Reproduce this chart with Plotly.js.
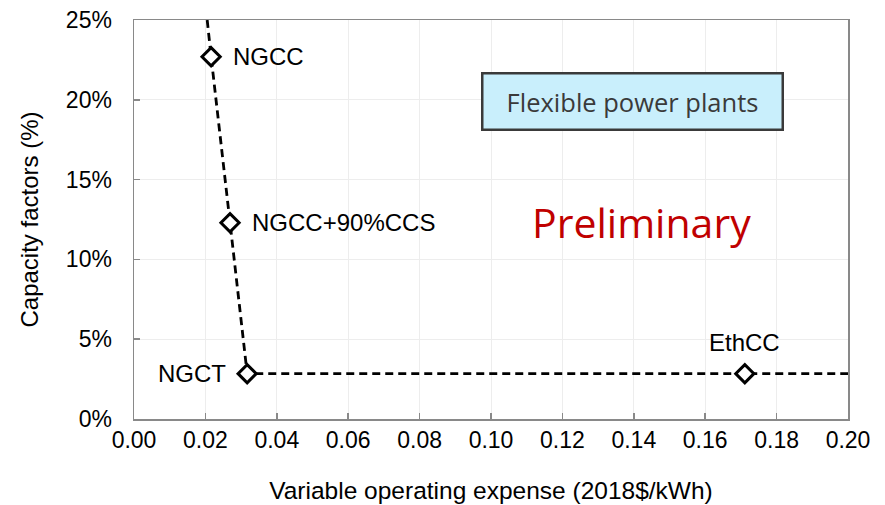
<!DOCTYPE html>
<html>
<head>
<meta charset="utf-8">
<script src="https://cdn.plot.ly/plotly-3.0.1.min.js"></script>
<style>html,body{margin:0;padding:0;background:#fff;}#chart{width:885px;height:505px;}</style>
</head>
<body>
<div id="chart"></div>
<script>
// Data
const plantNames = ["NGCC", "NGCC+90%CCS", "NGCT", "EthCC"];
const plantCost = [0.0216, 0.0269, 0.0317, 0.1711];
const plantCF = [22.7, 12.3, 2.84, 2.84];
// Frontier (dashed) line
const frontierX = [0.0205, 0.0216, 0.0269, 0.0317, 0.1711, 0.20];
const frontierY = [25.0, 22.7, 12.3, 2.84, 2.84, 2.84];
const xTicks = [0.00, 0.02, 0.04, 0.06, 0.08, 0.10, 0.12, 0.14, 0.16, 0.18, 0.20];
const yTicks = [0, 5, 10, 15, 20, 25];

const FONT = "Liberation Sans, Arial, sans-serif";

// label placement (anchor / pixel shift from the marker)
const labelStyle = [
  {xanchor: "left", yanchor: "middle", xshift: 20, yshift: 0},
  {xanchor: "left", yanchor: "middle", xshift: 20, yshift: 0},
  {xanchor: "right", yanchor: "middle", xshift: -19, yshift: 0},
  {xanchor: "center", yanchor: "middle", xshift: 0, yshift: 31}
];

const traces = [
  {
    x: frontierX, y: frontierY, mode: "lines", type: "scatter",
    line: {color: "#000", width: 2.8, dash: "8px,5px"},
    hoverinfo: "skip", showlegend: false
  },
  {
    x: plantCost, y: plantCF, mode: "markers", type: "scatter",
    marker: {symbol: "diamond", size: 14, color: "#fff", line: {color: "#000", width: 3}},
    showlegend: false, cliponaxis: false
  }
];

const pointLabels = plantNames.map((n, i) => Object.assign({
  xref: "x", yref: "y", x: plantCost[i], y: plantCF[i], text: n, showarrow: false,
  font: {family: FONT, size: 24, color: "#000"}
}, labelStyle[i]));

const layout = {
  width: 885, height: 505,
  margin: {l: 134, r: 37, t: 20, b: 86},
  paper_bgcolor: "#fff", plot_bgcolor: "#fff",
  font: {family: FONT, color: "#000"},
  showlegend: false,
  xaxis: {
    range: [0, 0.20], tickvals: xTicks, ticktext: xTicks.map(v => v.toFixed(2)),
    showgrid: true, gridcolor: "#ededed", gridwidth: 1,
    showline: true, linecolor: "#898989", linewidth: 1.5, mirror: true,
    ticks: "inside", ticklen: 6, tickcolor: "#898989", tickwidth: 1.5,
    tickfont: {family: FONT, size: 23, color: "#000"},
    zeroline: false,
    title: {text: "Variable operating expense (2018$/kWh)", font: {family: FONT, size: 24.5, color: "#000"}, standoff: 30}
  },
  yaxis: {
    range: [0, 25], tickvals: yTicks, ticktext: yTicks.map(v => v + "%"),
    showgrid: true, gridcolor: "#ededed", gridwidth: 1,
    showline: true, linecolor: "#898989", linewidth: 1.5, mirror: true,
    ticks: "inside", ticklen: 6, tickcolor: "#898989", tickwidth: 1.5,
    tickfont: {family: FONT, size: 23, color: "#000"},
    ticklabelstandoff: 16,
    zeroline: false,
    title: {text: "Capacity factors (%)", font: {family: FONT, size: 24, color: "#000"}, standoff: 20}
  },
  annotations: pointLabels.concat([
    {
      xref: "paper", yref: "paper", x: (632.5 - 134) / 714, y: (419 - 101.5) / 399,
      xanchor: "center", yanchor: "middle",
      text: "Flexible power plants", showarrow: false,
      font: {family: "Open Sans, sans-serif", size: 25.5, color: "#3a3a3a"},
      bgcolor: "#c9effc", bordercolor: "#3a3a3a", borderwidth: 2.5,
      width: 296, height: 52
    },
    {
      xref: "paper", yref: "paper", x: (641.5 - 134) / 714, y: (419 - 222) / 399,
      xanchor: "center", yanchor: "middle",
      text: "Preliminary", showarrow: false,
      font: {family: "Open Sans, sans-serif", size: 41, color: "#c00000"}
    }
  ])
};

Plotly.newPlot("chart", traces, layout, {displayModeBar: false, staticPlot: true});
</script>
</body>
</html>
